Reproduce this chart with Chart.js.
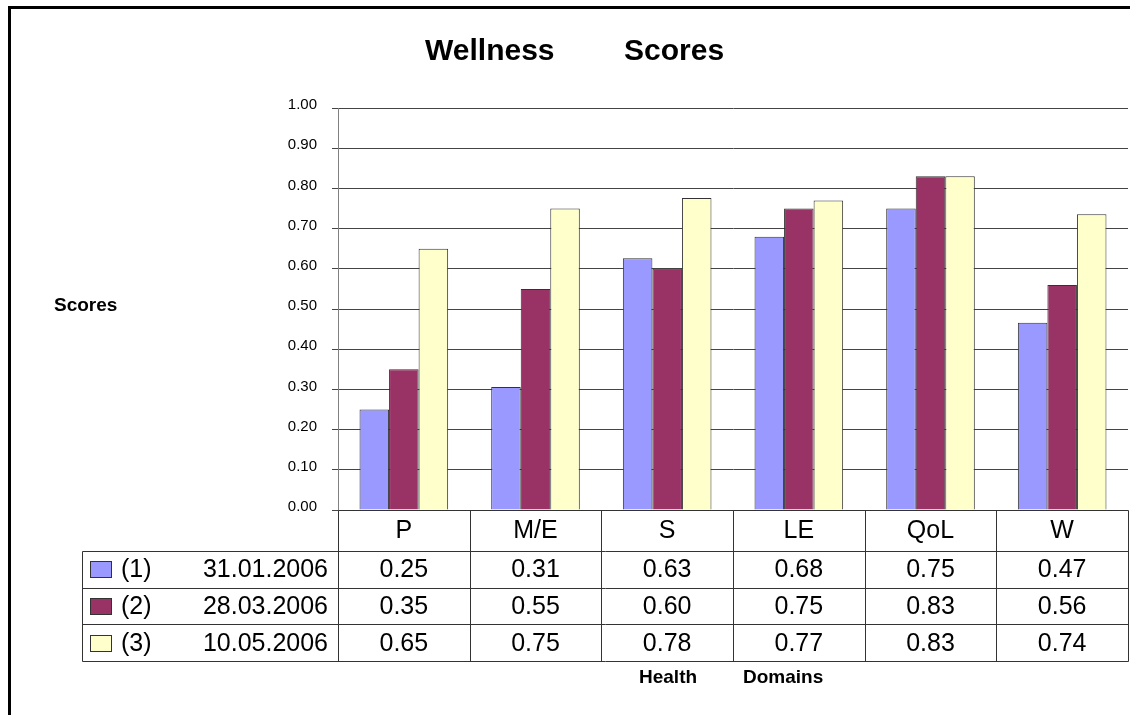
<!DOCTYPE html>
<html>
<head>
<meta charset="utf-8">
<script src="https://cdn.jsdelivr.net/npm/chart.js@4/dist/chart.umd.min.js"></script>
<style>
  body { margin: 0; background: #fff; }
  #wrap { width: 1130px; height: 715px; }
</style>
</head>
<body>
<div id="wrap"><canvas id="wellnessChart" width="1130" height="715"></canvas></div>
<script>
// Health domains and the three assessment dates
const domains = ['P', 'M/E', 'S', 'LE', 'QoL', 'W'];
const seriesNames = ['(1)', '(2)', '(3)'];
const seriesDates = ['31.01.2006', '28.03.2006', '10.05.2006'];
const scores1 = [0.25, 0.306, 0.626, 0.68, 0.75, 0.466];
const scores2 = [0.35, 0.55, 0.60, 0.75, 0.83, 0.56];
const scores3 = [0.65, 0.75, 0.776, 0.77, 0.83, 0.736];
const yTicks = [0, 0.1, 0.2, 0.3, 0.4, 0.5, 0.6, 0.7, 0.8, 0.9, 1.0];

const colors = ['#9999ff', '#993366', '#ffffcc'];
const allScores = [scores1, scores2, scores3];
const FONT = 'Arial, "Liberation Sans", sans-serif';

// Draws frame, title, axis captions and the data table under the bars
const tablePlugin = {
    id: 'dataTable',
    afterDraw(chart) {
        const ctx = chart.ctx;
        const area = chart.chartArea;
        const x = chart.scales.x;
        const colW = (area.right - area.left) / domains.length;
        const top = area.bottom;
        const headH = 41, rowH = 36.7;
        const legendLeft = 82;
        const bottom = top + headH + rowH * 3;

        ctx.save();

        // outer frame (left and top only visible)
        ctx.fillStyle = '#000';
        ctx.fillRect(8, 6, 1122, 3);
        ctx.fillRect(8, 6, 3, 709);

        // title
        ctx.fillStyle = '#000';
        ctx.font = 'bold 30px ' + FONT;
        ctx.textBaseline = 'middle';
        ctx.textAlign = 'left';
        ctx.fillText('Wellness', 425, 52);
        ctx.fillText('Scores', 624, 52);

        // y caption
        ctx.font = 'bold 19px ' + FONT;
        ctx.fillText('Scores', 54, 306);

        // x caption
        ctx.fillText('Health', 639, 678);
        ctx.fillText('Domains', 743, 678);

        // table grid
        ctx.strokeStyle = '#333';
        ctx.lineWidth = 1;
        ctx.beginPath();
        const R = Math.round(area.right) + 0.5;
        ctx.moveTo(Math.round(area.left) + 0.5, Math.round(top) + 0.5);
        ctx.lineTo(R, Math.round(top) + 0.5);
        for (let r = 0; r <= 3; r++) {
            const yy = Math.round(top + headH + r * rowH) + 0.5;
            ctx.moveTo(legendLeft + 0.5, yy);
            ctx.lineTo(R, yy);
        }
        for (let i = 0; i <= domains.length; i++) {
            const xx = Math.round(area.left + i * colW) + 0.5;
            ctx.moveTo(xx, Math.round(top) + 0.5);
            ctx.lineTo(xx, Math.round(bottom) + 0.5);
        }
        ctx.moveTo(legendLeft + 0.5, Math.round(top + headH) + 0.5);
        ctx.lineTo(legendLeft + 0.5, Math.round(bottom) + 0.5);
        ctx.stroke();

        // header labels
        ctx.fillStyle = '#000';
        ctx.font = '25px ' + FONT;
        ctx.textAlign = 'center';
        ctx.textBaseline = 'middle';
        domains.forEach((d, i) => {
            ctx.fillText(d, x.getPixelForValue(i), top + headH / 2 + 1);
        });

        // rows
        allScores.forEach((vals, r) => {
            const cy = top + headH + r * rowH + rowH / 2 + 1;
            // legend swatch
            const sy = Math.round(cy) - 9;
            ctx.fillStyle = colors[r];
            ctx.fillRect(90, sy, 22, 17);
            ctx.strokeStyle = '#333';
            ctx.strokeRect(90.5, sy + 0.5, 21, 16);
            ctx.fillStyle = '#000';
            ctx.textAlign = 'left';
            ctx.fillText(seriesNames[r], 121, cy);
            ctx.textAlign = 'right';
            ctx.fillText(seriesDates[r], area.left - 10, cy);
            ctx.textAlign = 'center';
            vals.forEach((v, i) => {
                ctx.fillText(v.toFixed(2), x.getPixelForValue(i), cy);
            });
        });

        ctx.restore();
    }
};

const ctx = document.getElementById('wellnessChart').getContext('2d');
new Chart(ctx, {
    type: 'bar',
    data: {
        labels: domains,
        datasets: allScores.map((vals, i) => ({
            label: seriesNames[i] + ' ' + seriesDates[i],
            data: vals,
            backgroundColor: colors[i],
            borderColor: '#333',
            borderWidth: 1,
            borderSkipped: 'bottom',
            categoryPercentage: 0.673,
            barPercentage: 1.0
        }))
    },
    options: {
        responsive: false,
        animation: false,
        devicePixelRatio: 1,
        layout: {
            padding: { left: 0, right: 2, top: 108, bottom: 205 }
        },
        plugins: {
            legend: { display: false },
            title: { display: false },
            tooltip: { enabled: false }
        },
        scales: {
            x: {
                display: false
            },
            y: {
                min: 0,
                max: 1,
                afterFit(scale) { scale.width = 338; },
                afterBuildTicks(scale) {
                    scale.ticks = yTicks.map(v => ({ value: v }));
                },
                ticks: {
                    color: '#000',
                    padding: 15,
                    labelOffset: -3,
                    font: { family: FONT, size: 15 },
                    callback: v => Number(v).toFixed(2)
                },
                grid: {
                    color: '#444',
                    lineWidth: 1,
                    tickLength: 6,
                    drawTicks: true
                },
                border: { color: '#808080', width: 1 }
            }
        }
    },
    plugins: [tablePlugin]
});
</script>
</body>
</html>
